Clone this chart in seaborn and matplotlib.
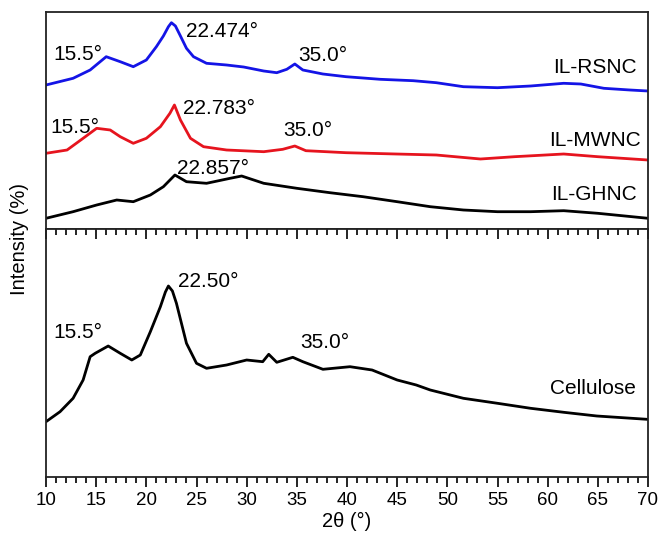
import pandas as pd
import seaborn as sb
import matplotlib.pyplot as plt
from matplotlib.ticker import MultipleLocator

# values (arbitrary intensity units, stacked offsets included)
rsnc_x = [10, 12.7, 14.4, 16.0, 17.4, 18.7, 20.0, 21.0, 21.7, 22.2, 22.5, 22.9, 23.35, 24.0, 24.7, 26.0, 28.0,
          29.7, 31.7, 33.0, 34.0, 34.8, 35.6, 37.6, 39.9, 43.3, 46.6, 48.9, 51.6, 55.0, 58.3,
          61.6, 63.3, 65.6, 68.2, 70]
rsnc_y = [144, 150.7, 159, 172.3, 167.3, 162.3, 169, 182.3, 193, 202.3, 206.3, 203, 194, 180.7, 172.3, 165.7, 164,
          162, 158, 156.3, 159.7, 165, 159, 155, 152.3, 149.7, 148.3, 146.3, 142.3, 141.3, 143,
          145.7, 145, 140.7, 139, 138]

mwnc_x = [10, 12.1, 13.7, 15.05, 16.4, 17.4, 18.7, 20.0, 21.4, 22.35, 22.8, 23.4, 24.4, 25.7, 28.0,
          31.7, 33.6, 34.8, 35.9, 39.9, 44.9, 48.9, 53.3, 56.7, 61.6, 65.0, 70]
mwnc_y = [75.7, 79, 90.7, 100.7, 99, 92.3, 85.7, 90.7, 102.3, 115.7, 124, 109, 90.7, 82.3, 79,
          77.3, 79.7, 83, 78.3, 76.3, 75, 74, 70, 72.3, 75, 72.3, 69]

ghnc_x = [10, 12.7, 15.05, 17.05, 18.7, 20.4, 21.7, 22.85, 24.0, 26.0, 28.35, 29.5, 31.7, 35.0,
          38.3, 41.6, 45.0, 48.3, 51.6, 55.0, 58.3, 61.6, 65.0, 70]
ghnc_y = [10.7, 17.3, 24, 29, 27.3, 34, 42.3, 54, 47.3, 45.7, 50.7, 53, 45.7, 40.7,
          36.3, 32.3, 27.3, 22.3, 19, 17.3, 17.3, 18.3, 15.7, 10.7]

cell_x = [10, 11.4, 12.7, 13.7, 14.4, 14.9, 16.2, 17.4, 18.55, 19.4, 20.4, 21.4, 21.9, 22.2, 22.6, 23.0, 24.0,
          25.0, 26.0, 28.0, 30.0, 31.6, 32.2, 33.0, 34.6, 35.6, 37.6, 40.3, 42.5, 45.0, 46.9,
          48.3, 51.6, 55.0, 58.3, 61.6, 64.9, 69.9]
cell_y = [55.3, 65.3, 78.7, 97, 120.3, 123.7, 131, 123.7, 117, 122, 145.3, 170.3, 185, 191, 186, 173.7, 133.7,
          113.7, 108.7, 112, 117, 115.3, 122.7, 114.7, 119.7, 115.3, 107.7, 110.3, 107, 97, 92,
          87, 78.7, 73.7, 68.7, 64.7, 61, 57.7]

sb.set_style('white')
plt.rcParams['font.family'] = ['Liberation Sans', 'DejaVu Sans']
plt.rcParams['text.color'] = 'black'
plt.rcParams['xtick.color'] = 'black'

fig = plt.figure(figsize=(6.6, 5.35), dpi=100)
ax1 = fig.add_axes([46/660, 1-229/535, 602/660, 217/535])
ax2 = fig.add_axes([46/660, 1-477/535, 602/660, 248/535])

top = pd.concat([
    pd.DataFrame({'x': rsnc_x, 'y': rsnc_y, 's': 'IL-RSNC'}),
    pd.DataFrame({'x': mwnc_x, 'y': mwnc_y, 's': 'IL-MWNC'}),
    pd.DataFrame({'x': ghnc_x, 'y': ghnc_y, 's': 'IL-GHNC'}),
])
sb.lineplot(data=top, x='x', y='y', hue='s', estimator=None, sort=True, lw=2.0,
            palette={'IL-RSNC': '#1414e6', 'IL-MWNC': '#e6141e', 'IL-GHNC': 'black'},
            legend=False, ax=ax1)
sb.lineplot(x=cell_x, y=cell_y, color='black', lw=2.0, estimator=None, ax=ax2)

for ax in (ax1, ax2):
    ax.set_xlim(10, 70)
    ax.set_xlabel('')
    ax.set_ylabel('')
    ax.set_yticks([])
    for sp in ax.spines.values():
        sp.set_linewidth(1.3)
        sp.set_color('#222222')
ax1.set_ylim(0, 217)
ax2.set_ylim(0, 248)
ax1.set_xticks([])

ax2.xaxis.set_major_locator(MultipleLocator(5))
ax2.xaxis.set_minor_locator(MultipleLocator(1))
ax2.tick_params(axis='x', which='both', bottom=True, top=True, direction='out',
                labelsize=13.5, width=1.2, colors='black')
ax2.tick_params(axis='x', which='major', length=7, pad=4)
ax2.tick_params(axis='x', which='minor', length=4.5)
# ticks on top of the lower panel point inward
for t in ax2.xaxis.get_major_ticks() + ax2.xaxis.get_minor_ticks():
    t.tick2line.set_marker(3)

fs = 15
ax1.text(10.7, 175, '15.5°', fontsize=fs, va='center')
ax1.text(24.0, 197.5, '22.474°', fontsize=fs, va='center')
ax1.text(35.1, 173.5, '35.0°', fontsize=fs, va='center')
ax1.text(68.9, 161.5, 'IL-RSNC', fontsize=fs, va='center', ha='right')
ax1.text(10.4, 101.5, '15.5°', fontsize=fs, va='center')
ax1.text(23.65, 120.7, '22.783°', fontsize=fs, va='center')
ax1.text(33.6, 98.5, '35.0°', fontsize=fs, va='center')
ax1.text(69.3, 88.5, 'IL-MWNC', fontsize=fs, va='center', ha='right')
ax1.text(23.05, 60.7, '22.857°', fontsize=fs, va='center')
ax1.text(68.9, 34, 'IL-GHNC', fontsize=fs, va='center', ha='right')

ax2.text(10.7, 144.5, '15.5°', fontsize=fs, va='center')
ax2.text(23.15, 195.3, '22.50°', fontsize=fs, va='center')
ax2.text(35.3, 134.5, '35.0°', fontsize=fs, va='center')
ax2.text(68.8, 88, 'Cellulose', fontsize=fs, va='center', ha='right')

fig.text(20/660, 1-239/535, 'Intensity (%)', rotation=90, ha='center', va='center', fontsize=14.5)
fig.text(347/660, 1-521/535, '2θ (°)', ha='center', va='center', fontsize=14.5)

plt.savefig('out.png', dpi=100)
